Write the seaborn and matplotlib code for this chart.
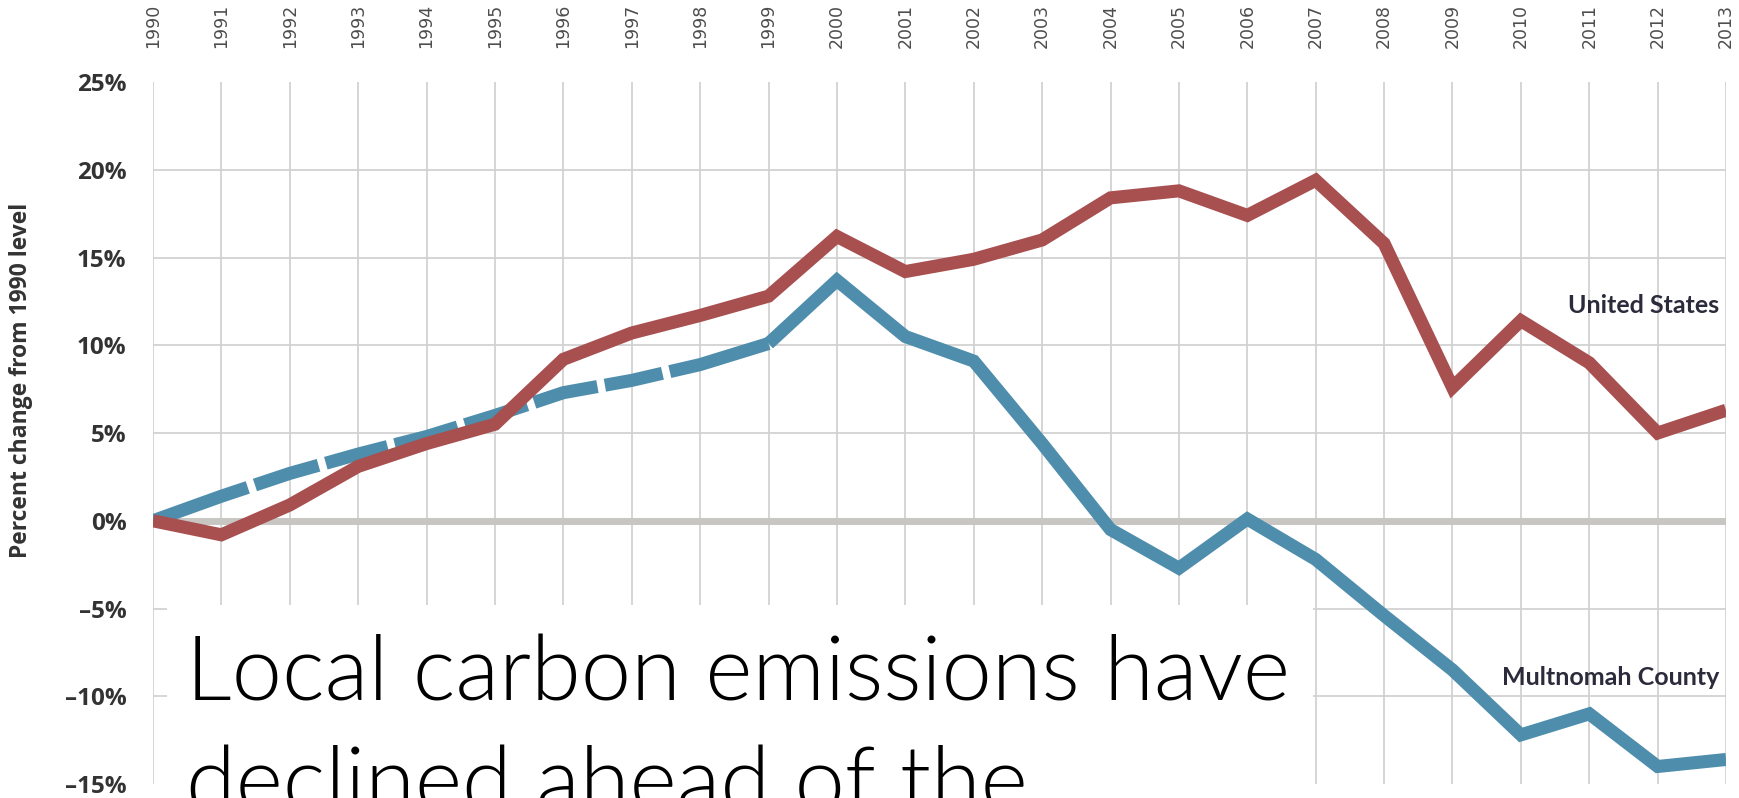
import matplotlib
matplotlib.use("Agg")
import matplotlib.pyplot as plt
import seaborn as sns
import pandas as pd
from matplotlib.patches import Rectangle

# data (percent change from 1990)
years = list(range(1990, 2014))
us_change = [0.0, -0.8, 0.9, 3.1, 4.4, 5.5, 9.2, 10.7, 11.7, 12.8, 16.2, 14.2,
             14.9, 16.0, 18.4, 18.8, 17.4, 19.4, 15.8, 7.6, 11.4, 9.0, 5.0, 6.3]
county_change = [0.0, 1.4, 2.7, 3.8, 4.8, 6.0, 7.3, 8.0, 8.9, 10.1, 13.7, 10.5,
                 9.1, 4.4, -0.5, -2.7, 0.1, -2.2, -5.4, -8.5, -12.2, -11.0, -14.0, -13.6]
county_dashed_until = 1999
y_ticks = [-15, -10, -5, 0, 5, 10, 15, 20, 25]
y_tick_labels = ["–15%", "–10%", "–5%", "0%", "5%", "10%", "15%", "20%", "25%"]
title_lines = ["Local carbon emissions have", "declined ahead of the"]

df = pd.DataFrame({"Year": years, "United States": us_change,
                   "Multnomah County": county_change})
county_est = df[df["Year"] <= county_dashed_until]
county_meas = df[df["Year"] >= county_dashed_until]

red = "#a84f50"
blue = "#4e8eac"

sns.set_theme(style="white")
plt.rcParams["font.family"] = ["Lato", "DejaVu Sans"]

fig = plt.figure(figsize=(17.4, 7.98), dpi=100)
ax = fig.add_axes([0.0879, 0.0175, 0.9041, 0.8797])

# lines
sns.lineplot(data=county_meas, x="Year", y="Multnomah County", color=blue,
             linewidth=9.4, errorbar=None, ax=ax,
             solid_capstyle="butt", solid_joinstyle="miter", zorder=3)
sns.lineplot(data=county_est, x="Year", y="Multnomah County", color=blue,
             linewidth=9.4, errorbar=None, ax=ax,
             linestyle=(0, (7.7, 0.58, 5.1, 0.58, 4.9, 0.58, 5.0, 0.58, 5.0, 0.58,
                            5.0, 0.58, 4.5, 0.58, 20, 0.58)),
             dash_capstyle="butt", dash_joinstyle="miter", zorder=3)
sns.lineplot(data=df, x="Year", y="United States", color=red,
             linewidth=9.4, errorbar=None, ax=ax,
             solid_capstyle="butt", solid_joinstyle="miter", zorder=4)
ax.axhline(0, color="#c8c6c3", linewidth=5, zorder=1.5)

ax.set_xlim(1990, 2013)
ax.set_ylim(-15, 25)

# grid + ticks
ax.set_xticks(years, labels=[str(y) for y in years],
              fontfamily="DejaVu Sans", fontsize=12.5, color="#4d4d4d")
ax.xaxis.tick_top()
ax.tick_params(axis="x", length=0, pad=24.5, labelrotation=90)
ax.set_yticks(y_ticks, labels=y_tick_labels, fontweight="bold",
              fontfamily="Open Sans", fontsize=17.5, color="#333333")
ax.tick_params(axis="y", length=0, pad=19)
ax.grid(True, color="#d2d2d2", linewidth=1.3)
ax.set_axisbelow(True)
ygl = ax.yaxis.get_gridlines()
ygl[0].set_visible(False)
ygl[-1].set_visible(False)
for s in ax.spines.values():
    s.set_visible(False)

ax.set_xlabel("")
ax.set_ylabel("Percent change from 1990 level", fontweight="bold",
              fontfamily="Open Sans", fontsize=16.5, color="#333333")
ax.yaxis.set_label_coords(-0.0763, 0.575)

# series labels
ax.text(2012.9, 11.84, "United States", ha="right", va="baseline",
        fontweight="bold", fontsize=18, color="#2b2b3b", zorder=5)
ax.text(2012.9, -9.33, "Multnomah County", ha="right", va="baseline",
        fontweight="bold", fontsize=18, color="#2b2b3b", zorder=5)

# white box with overlaid title
ax.add_patch(Rectangle((0.096, 0.0), 0.6586, 0.2419, transform=fig.transFigure,
                       facecolor="white", edgecolor="none", clip_on=False, zorder=2))
fig.text(0.107, 0.1228, title_lines[0], fontsize=65, fontweight=300,
         family=["Lato", "DejaVu Sans"], ha="left", va="baseline", color="black")
fig.text(0.107, -0.0175, title_lines[1], fontsize=65, fontweight=300,
         family=["Lato", "DejaVu Sans"], ha="left", va="baseline", color="black")

fig.savefig("out.png", dpi=100)
